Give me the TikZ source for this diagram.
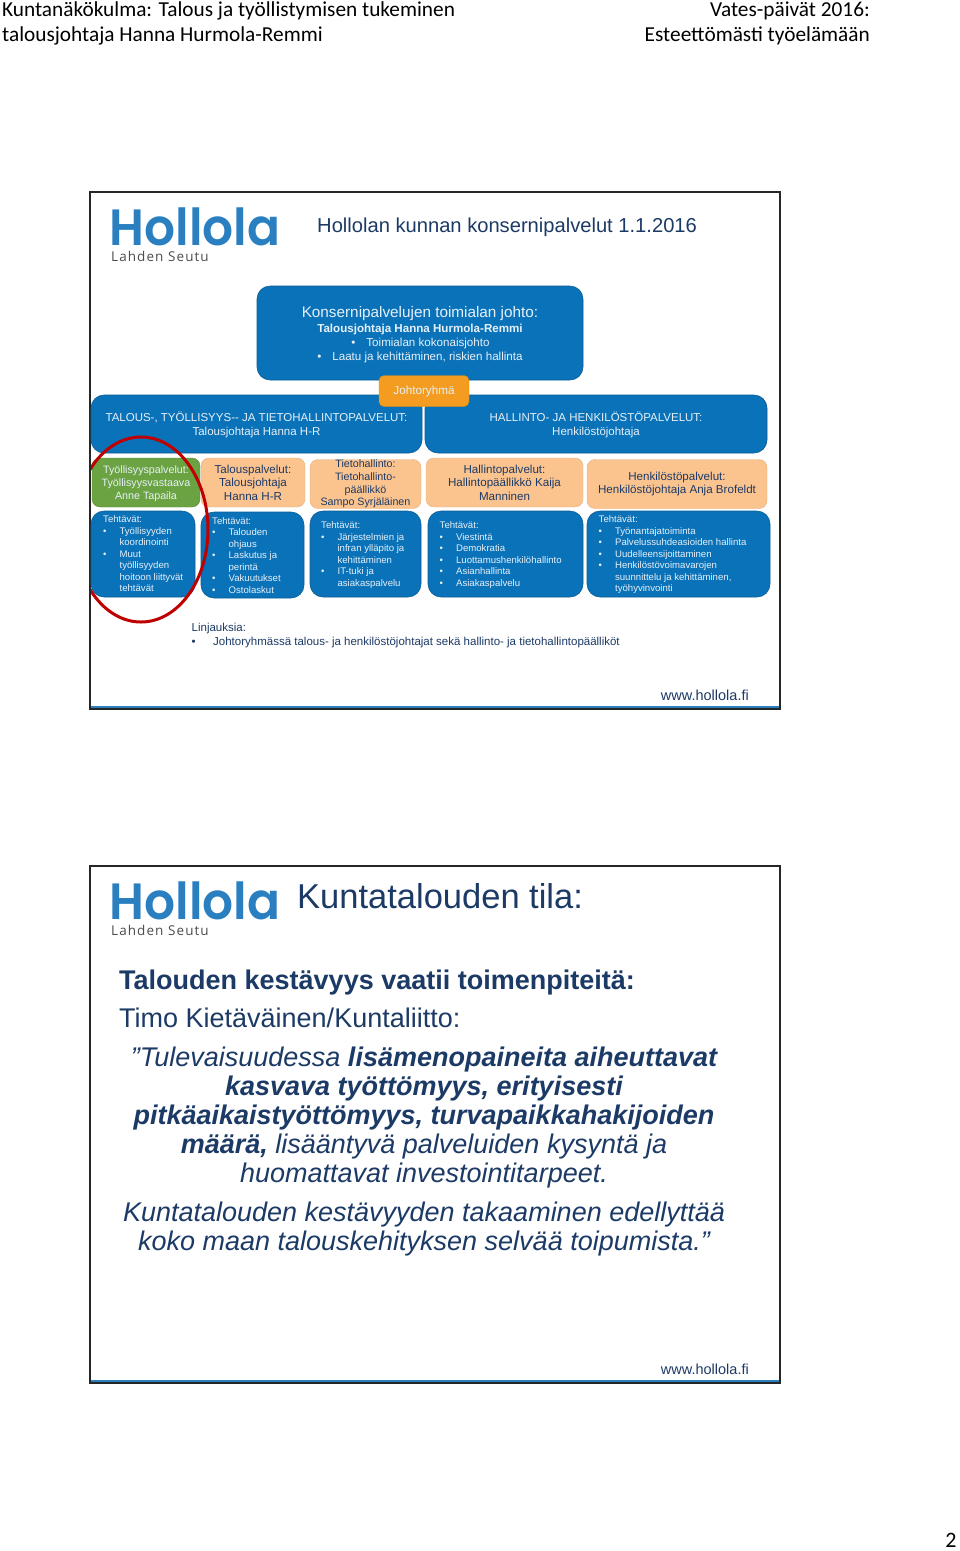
\documentclass[tikz,border=0pt]{standalone}
\usepackage{fontspec}
\setmainfont{Liberation Sans}
\newfontfamily\otsikkofont{Carlito}
\newfontfamily\logofont{Poppins SemiBold}
\newfontfamily\seutufont{Open Sans}
\definecolor{sininen}{HTML}{0A72B8}
\definecolor{reuna}{HTML}{0B5E96}
\definecolor{persikka}{HTML}{FBC48F}
\definecolor{vihrea}{HTML}{6BA342}
\definecolor{oranssi}{HTML}{F39C1F}
\definecolor{laivasto}{HTML}{1C3A66}
\definecolor{vaalea}{HTML}{E6F0F8}
\definecolor{logosin}{HTML}{2A7FC1}
\newcommand{\kohta}{\makebox[16.4pt][l]{\textbullet}}
\newcommand{\jatko}{\hspace*{16.4pt}}
\begin{document}
\begin{tikzpicture}[x=1pt,y=-1pt]

  % ── Tyylit ────────────────────────
  \tikzset{
    laatikko/.style = {draw=reuna, fill=sininen, rounded corners=13pt, inner sep=0pt, text=vaalea, align=center, line width=0.6pt},
    nimike/.style = {fill=persikka, draw=persikka!90!black, rounded corners=8pt, inner sep=0pt, text=laivasto, align=center, line width=0.4pt, font=\fontsize{11.6}{13.6}\selectfont},
    tehtava/.style = {text=vaalea, align=left, inner sep=0pt, anchor=north west, font=\fontsize{9.6}{11.5}\selectfont},
    runko/.style = {text=laivasto, inner sep=0pt},
    lainaus/.style = {text=laivasto, inner sep=0pt, align=center, font=\fontsize{27}{29}\selectfont\itshape}
  }

  \useasboundingbox (0,0) rectangle (960,1551);
  \fill[white] (0,0) rectangle (960,1551);

  % =========================================================
  % 1. SIVUN OTSIKOT
  % =========================================================
  \node[anchor=west, inner sep=0pt, align=left, font=\otsikkofont\fontsize{21.3}{25}\selectfont] (otsikkoV) at (2,23.5)
    {Kuntanäkökulma: Talous ja työllistymisen tukeminen\\talousjohtaja Hanna Hurmola-Remmi};
  \node[anchor=east, inner sep=0pt, align=right, font=\otsikkofont\fontsize{21.3}{25}\selectfont] (otsikkoO) at (870,23.5)
    {Vates-päivät 2016:\\Esteettömästi työelämään};
  \node[inner sep=0pt, font=\otsikkofont\fontsize{22}{25}\selectfont] (sivunro) at (951,1540) {2};

  % =========================================================
  % 2. KALVOPOHJA (sama molemmissa)
  % =========================================================
  \foreach \sy/\nm in {0/a,674/b} {
    \begin{scope}[shift={(0,\sy)}]
      \draw[line width=2pt, black!85] (90,192) rectangle (780,709);
      \draw[line width=2pt, logosin] (91,706.6) -- (779,706.6);
      \node[anchor=base west, inner sep=0pt, text depth=0pt, text=logosin, font=\logofont\fontsize{51}{53}\selectfont] (logo\nm) at (109.5,245) {\scalebox{0.954}[1]{Hollola}};
      \node[anchor=west, inner sep=0pt, text=black!70, font=\seutufont\fontsize{13.5}{15}\selectfont] (seutu\nm) at (111,256.5) {\addfontfeature{LetterSpace=8}Lahden Seutu};
      \node[anchor=east, inner sep=0pt, text=laivasto, font=\fontsize{14.5}{16}\selectfont] (www\nm) at (749,695) {www.hollola.fi};
    \end{scope}
  }

  % =========================================================
  % 3. ORGANISAATIOKAAVIO
  % =========================================================
  \node[runko, anchor=west, font=\fontsize{20.15}{22}\selectfont] (otsikko) at (317,227.5) {Hollolan kunnan konsernipalvelut 1.1.2016};

  % Johto
  \node[laatikko, minimum width=326pt, minimum height=94pt] (johto) at (420,333) {};
  \node[text=vaalea, inner sep=0pt, font=\fontsize{15.3}{17}\selectfont] (johtoA) at (420,313.5) {Konsernipalvelujen toimialan johto:};
  \node[text=vaalea, inner sep=0pt, font=\fontsize{11.6}{14}\selectfont\bfseries] (johtoB) at (420,329) {Talousjohtaja Hanna Hurmola-Remmi};
  \node[text=vaalea, inner sep=0pt, font=\fontsize{11.6}{14}\selectfont] (johtoC) at (420.5,343) {\makebox[15pt][l]{\textbullet}Toimialan kokonaisjohto};
  \node[text=vaalea, inner sep=0pt, font=\fontsize{11.6}{14}\selectfont] (johtoD) at (420,357) {\makebox[15pt][l]{\textbullet}Laatu ja kehittäminen, riskien hallinta};

  % Kaksi palvelualuetta
  \node[laatikko, minimum width=331pt, minimum height=58pt] (talous) at (256.5,424) {};
  \node[inner sep=0pt, text=vaalea, align=center, font=\fontsize{11.5}{14.2}\selectfont] (talousT) at (256.5,425)
    {TALOUS-, TYÖLLISYYS-{}- JA TIETOHALLINTOPALVELUT:\\Talousjohtaja Hanna H-R};
  \node[laatikko, minimum width=342pt, minimum height=58pt] (hallinto) at (596,424) {};
  \node[inner sep=0pt, text=vaalea, align=center, font=\fontsize{11.5}{14.2}\selectfont] (hallintoT) at (596,425)
    {HALLINTO- JA HENKILÖSTÖPALVELUT:\\Henkilöstöjohtaja};
  \node[fill=oranssi, draw=oranssi!90!black, rounded corners=5pt, minimum width=90pt, minimum height=31pt, inner sep=0pt, text=vaalea, font=\fontsize{11.7}{14}\selectfont] (johtoryhma) at (424,391) {Johtoryhmä};

  % Nimikkeet
  \node[nimike, fill=vihrea, draw=vihrea!85!black, minimum width=108pt, minimum height=49pt] (tyollisyys) at (146,482.5) {};
  \node[inner sep=0pt, text=vaalea, align=center, font=\fontsize{10.7}{13}\selectfont] (tyollisyysT) at (146,483.5)
    {Työllisyyspalvelut:\\Työllisyysvastaava\\Anne Tapaila};
  \node[nimike, minimum width=104pt, minimum height=49pt] (talousp) at (253,482.5)
    {Talouspalvelut:\\Talousjohtaja\\Hanna H-R};
  \node[nimike, minimum width=111pt, minimum height=49pt, font=\fontsize{10.7}{12.7}\selectfont] (tieto) at (365.5,484)
    {Tietohallinto:\\Tietohallinto-\\päällikkö\\Sampo Syrjäläinen};
  \node[nimike, minimum width=157pt, minimum height=49pt] (hallintop) at (504.5,482.5)
    {Hallintopalvelut:\\Hallintopäällikkö Kaija\\Manninen};
  \node[nimike, minimum width=180pt, minimum height=49pt] (henkilo) at (677,484)
    {Henkilöstöpalvelut:\\Henkilöstöjohtaja Anja Brofeldt};

  % Tehtävät
  \node[laatikko, minimum width=104pt, minimum height=86pt] (teht1) at (143,554) {};
  \node[laatikko, minimum width=103pt, minimum height=86pt] (teht2) at (252.5,555) {};
  \node[laatikko, minimum width=111pt, minimum height=86pt] (teht3) at (365.5,554) {};
  \node[laatikko, minimum width=155pt, minimum height=86pt] (teht4) at (505.5,554) {};
  \node[laatikko, minimum width=183pt, minimum height=86pt] (teht5) at (678.5,554) {};

  \node[tehtava] (lista1) at (103,515.7) {Tehtävät:\\\kohta Työllisyyden\\\jatko koordinointi\\\kohta Muut\\\jatko työllisyyden\\\jatko hoitoon liittyvät\\\jatko tehtävät};
  \node[tehtava] (lista2) at (212,517.2) {Tehtävät:\\\kohta Talouden\\\jatko ohjaus\\\kohta Laskutus ja\\\jatko perintä\\\kohta Vakuutukset\\\kohta Ostolaskut};
  \node[tehtava] (lista3) at (321,521.7) {Tehtävät:\\\kohta Järjestelmien ja\\\jatko infran ylläpito ja\\\jatko kehittäminen\\\kohta IT-tuki ja\\\jatko asiakaspalvelu};
  \node[tehtava] (lista4) at (439.5,521.7) {Tehtävät:\\\kohta Viestintä\\\kohta Demokratia\\\kohta Luottamushenkilöhallinto\\\kohta Asianhallinta\\\kohta Asiakaspalvelu};
  \node[tehtava] (lista5) at (598.5,515.7) {Tehtävät:\\\kohta Työnantajatoiminta\\\kohta Palvelussuhdeasioiden hallinta\\\kohta Uudelleensijoittaminen\\\kohta Henkilöstövoimavarojen\\\jatko suunnittelu ja kehittäminen,\\\jatko työhyvinvointi};

  % Punainen rengas, rajattu kalvon reunaan
  \begin{scope}
    \clip (91,430) rectangle (215,630);
    \draw[line width=3pt, red!75!black] (141,529.5) ellipse [x radius=67, y radius=92.5];
  \end{scope}

  % Linjaukset
  \node[runko, anchor=north west, align=left, font=\fontsize{11.5}{14}\selectfont] (linjaus) at (191.5,622.8)
    {Linjauksia:\\\makebox[21.5pt][l]{\textbullet}Johtoryhmässä talous- ja henkilöstöjohtajat sekä hallinto- ja tietohallintopäälliköt};

  % =========================================================
  % 4. KUNTATALOUDEN TILA
  % =========================================================
  \node[runko, anchor=west, font=\fontsize{34.5}{38}\selectfont] (tila) at (297,896) {Kuntatalouden tila:};
  \node[runko, anchor=west, font=\fontsize{27}{29}\selectfont\bfseries] (kestavyys) at (119,983) {Talouden kestävyys vaatii toimenpiteitä:};
  \node[runko, anchor=west, font=\fontsize{27}{29}\selectfont] (timo) at (119,1018) {Timo Kietäväinen/Kuntaliitto:};
  \node[lainaus] (lainaus1) at (424,1117.5)
    {”Tulevaisuudessa \textbf{lisämenopaineita aiheuttavat}\\\textbf{kasvava työttömyys, erityisesti}\\\textbf{pitkäaikaistyöttömyys, turvapaikkahakijoiden}\\\textbf{määrä,} lisääntyvä palveluiden kysyntä ja\\huomattavat investointitarpeet.};
  \node[lainaus] (lainaus2) at (424,1229.5)
    {Kuntatalouden kestävyyden takaaminen edellyttää\\koko maan talouskehityksen selvää toipumista.”};

\end{tikzpicture}
\end{document}
